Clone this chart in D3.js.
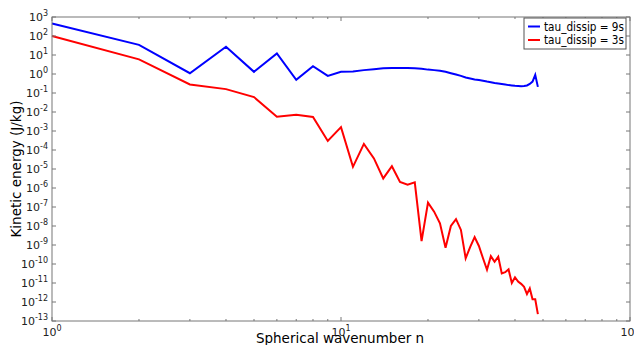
<!DOCTYPE html>
<html><head><meta charset="utf-8">
<script src="https://cdn.jsdelivr.net/npm/d3@7"></script>
<style>body{margin:0;background:#fff;} svg{display:block;font-family:"DejaVu Sans",sans-serif;}</style>
</head><body>
<svg id="c" width="634" height="345"></svg>
<script>
const wavenumbers = d3.range(1, 49);
const tau9 = [450,34,1.1,27,1.3,12,0.5,2.6,0.8,1.3,1.35,1.6,1.8,2.0,2.1,2.1,2.1,2.0,1.9,1.7,1.6,1.5,1.3,1.1,0.95,0.8,0.65,0.58,0.52,0.48,0.44,0.40,0.37,0.34,0.32,0.30,0.28,0.26,0.25,0.24,0.235,0.23,0.235,0.25,0.3,0.4,0.9,0.21];
const tau3 = [100,5.9,0.28,0.16,0.061,0.0056,0.0072,0.0055,0.0003,0.0016,1.3e-5,2.1e-4,3.6e-5,3.2e-6,1.4e-5,2.1e-6,1.5e-6,2.0e-6,1.6e-9,1.7e-7,5.7e-8,1.4e-8,7.2e-10,1.0e-8,2.3e-8,6.2e-9,2.0e-10,8e-10,2.6e-9,8.9e-10,2e-10,5e-11,2.6e-10,1.3e-10,2.4e-10,3.2e-11,3.7e-11,5.2e-11,1.0e-11,2.0e-11,1.2e-11,9e-12,6.3e-12,2.6e-12,5.2e-12,1.4e-12,1.4e-12,2.3e-13];
const seriesNames = ["tau_dissip = 9s","tau_dissip = 3s"];
const xTickExps = [0,1,2];
const yTickExps = d3.range(-13, 4);

const svg = d3.select("#c");
const L=52, R=630, T=17, B=321;
const x = d3.scaleLog().domain([1,100]).range([L,R]);
const y = d3.scaleLog().domain([1e-13,1e3]).range([B,T]);
const frame = "#777", txt="#222";

// lines
const line = d3.line().x((d,i)=>x(wavenumbers[i])).y(d=>y(d));
svg.append("path").datum(tau9).attr("d",line).attr("fill","none").attr("stroke","#0000ff").attr("stroke-width",2);
svg.append("path").datum(tau3).attr("d",line).attr("fill","none").attr("stroke","#ff0000").attr("stroke-width",2);

// frame
svg.append("rect").attr("x",L).attr("y",T).attr("width",R-L).attr("height",B-T).attr("fill","none").attr("stroke",frame).attr("stroke-width",1);

// x ticks
const g = svg.append("g");
const minorX = [];
for (let d=1; d<100; d*=10) for (let k=2;k<=9;k++) minorX.push(d*k);
minorX.forEach(v=>{
  g.append("line").attr("x1",x(v)).attr("x2",x(v)).attr("y1",B).attr("y2",B-2).attr("stroke",frame);
  g.append("line").attr("x1",x(v)).attr("x2",x(v)).attr("y1",T).attr("y2",T+2).attr("stroke",frame);
});
xTickExps.forEach(e=>{
  const v=Math.pow(10,e);
  g.append("line").attr("x1",x(v)).attr("x2",x(v)).attr("y1",B).attr("y2",B-4).attr("stroke",frame);
  g.append("line").attr("x1",x(v)).attr("x2",x(v)).attr("y1",T).attr("y2",T+4).attr("stroke",frame);
  const t = g.append("text").attr("x",x(v)).attr("y",B+15).attr("text-anchor","middle").attr("fill",txt).attr("font-size",11);
  t.append("tspan").text("10");
  t.append("tspan").attr("dy",-5).attr("font-size",8).text(e);
});
// y ticks
yTickExps.forEach(e=>{
  const v=Math.pow(10,e);
  g.append("line").attr("x1",L).attr("x2",L+4).attr("y1",y(v)).attr("y2",y(v)).attr("stroke",frame);
  g.append("line").attr("x1",R).attr("x2",R-4).attr("y1",y(v)).attr("y2",y(v)).attr("stroke",frame);
  const t = g.append("text").attr("x",L-4).attr("y",y(v)+4).attr("text-anchor","end").attr("fill",txt).attr("font-size",11);
  t.append("tspan").text("10");
  t.append("tspan").attr("dy",-5).attr("font-size",8).text(e<0?"-"+(-e):e);
});

// axis labels
svg.append("text").attr("x",340).attr("y",343).attr("text-anchor","middle").attr("font-size",13.5).attr("fill","#000").text("Spherical wavenumber n");
svg.append("text").attr("transform",`translate(21,${(T+B)/2}) rotate(-90)`).attr("text-anchor","middle").attr("font-size",13.5).attr("fill","#000").text("Kinetic energy (J/kg)");

// legend
const lg = svg.append("g");
lg.append("rect").attr("x",524).attr("y",18).attr("width",102).attr("height",31).attr("fill","#fff").attr("stroke","#555").attr("stroke-width",1);
const colors=["#0000ff","#ff0000"];
seriesNames.forEach((n,i)=>{
  const yy = 26.5+i*13.5;
  lg.append("line").attr("x1",528).attr("x2",540).attr("y1",yy).attr("y2",yy).attr("stroke",colors[i]).attr("stroke-width",2);
  lg.append("text").attr("x",544).attr("y",yy+4).attr("font-size",11.5).attr("textLength",80).attr("lengthAdjust","spacingAndGlyphs").attr("fill","#000").text(n);
});
</script>
</body></html>
